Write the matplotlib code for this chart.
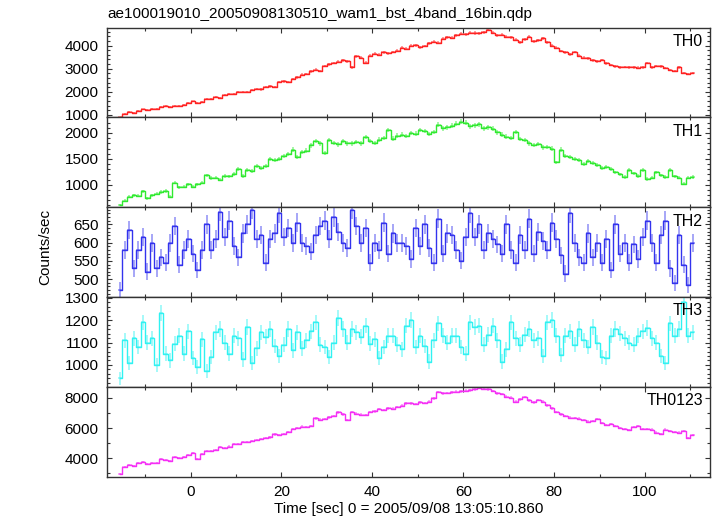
import numpy as np
import matplotlib
matplotlib.use('Agg')
import matplotlib.pyplot as plt
from matplotlib.ticker import MultipleLocator

plt.rcParams['font.family'] = ['Liberation Sans', 'DejaVu Sans']

title = 'ae100019010_20050908130510_wam1_bst_4band_16bin.qdp'
xlabel = 'Time [sec] 0 = 2005/09/08 13:05:10.860'
ylabel = 'Counts/sec'

# time bins: first bin centre and width [sec]
t_start = -15.5
bin_size = 1.0

# count rates (counts/sec), one value per bin
th0 = [900, 1050, 1120, 1100, 1180, 1240, 1230, 1260, 1250, 1340, 1400, 1360, 1390, 1400, 1450, 1530,
       1580, 1520, 1560, 1700, 1680, 1760, 1720, 1880, 1920, 1900, 1990, 2010, 2000, 2090, 2130, 2100,
       2210, 2230, 2200, 2430, 2450, 2420, 2540, 2620, 2740, 2760, 2880, 2960, 2900, 3120, 3180, 3240,
       3300, 3360, 3320, 3050, 3540, 3480, 3260, 3560, 3640, 3600, 3700, 3660, 3720, 3780, 3900, 3860,
       4000, 4020, 3930, 3980, 4100, 4160, 4120, 4300, 4360, 4340, 4450, 4500, 4480, 4560, 4540, 4520,
       4580, 4680, 4560, 4450, 4460, 4380, 4360, 4250, 4150, 4280, 4380, 4180, 4220, 4310, 4150, 4000,
       3900, 3760, 3700, 3620, 3720, 3560, 3480, 3440, 3360, 3320, 3380, 3230, 3150, 3100, 3060, 3080,
       3050, 3060, 3040, 3060, 3250, 3060, 3120, 3100, 3030, 2950, 2900, 3050, 2820, 2760, 2800]

th1 = [610, 690, 770, 800, 790, 870, 740, 800, 830, 860, 880, 770, 1040, 950, 960, 1010,
       960, 1010, 1040, 1180, 1130, 1140, 1100, 1170, 1160, 1210, 1300, 1170, 1290, 1260, 1360, 1330,
       1370, 1490, 1470, 1500, 1560, 1590, 1680, 1530, 1640, 1660, 1760, 1840, 1800, 1620, 1860, 1810,
       1780, 1850, 1800, 1800, 1830, 1800, 1920, 1840, 1810, 1870, 1900, 2060, 1890, 1950, 1970, 1940,
       2000, 1990, 2060, 2040, 1980, 2020, 2160, 2090, 2110, 2140, 2180, 2220, 2200, 2130, 2150, 2170,
       2090, 2110, 2080, 2010, 1970, 1930, 1900, 2020, 1880, 1860, 1800, 1770, 1790, 1720, 1730, 1700,
       1430, 1680, 1560, 1530, 1500, 1480, 1400, 1450, 1420, 1380, 1330, 1350, 1300, 1240, 1200, 1150,
       1280, 1220, 1170, 1290, 1110, 1140, 1240, 1180, 1150, 1280, 1160, 1140, 1020, 1140, 1150]

th2 = [470, 580, 635, 530, 580, 615, 520, 600, 530, 560, 545, 600, 645, 540, 580, 610,
       570, 525, 580, 650, 580, 610, 685, 615, 660, 590, 560, 625, 650, 690, 610, 620,
       545, 610, 625, 680, 615, 640, 600, 655, 600, 590, 575, 620, 645, 660, 610, 670,
       630, 600, 585, 690, 645, 600, 640, 545, 600, 580, 655, 570, 625, 600, 598, 590,
       555, 640, 590, 650, 585, 545, 665, 570, 625, 620, 580, 550, 615, 680, 615, 650,
       580, 625, 610, 595, 570, 650, 580, 545, 620, 580, 665, 570, 630, 605, 580, 655,
       610, 565, 515, 680, 600, 560, 545, 625, 560, 600, 545, 610, 525, 650, 570, 600,
       545, 595, 555, 615, 660, 600, 545, 620, 660, 530, 490, 620, 540, 485, 600]

th3 = [940, 1110, 1010, 1120, 1080, 1190, 1100, 1120, 1000, 1230, 1050, 1020, 1095, 1130, 1050, 1150,
       1030, 990, 1115, 975, 1035, 1145, 1160, 1100, 1050, 1130, 1120, 1025, 1170, 1010, 1075, 1145,
       1125, 1160, 1085, 1040, 1090, 1160, 1065, 1145, 1075, 1110, 1150, 1190, 1090, 1080, 1035, 1100,
       1210, 1160, 1100, 1160, 1145, 1125, 1175, 1095, 1115, 1030, 1080, 1130, 1130, 1090, 1070, 1175,
       1200, 1080, 1130, 1085, 1015, 1110, 1185, 1130, 1100, 1130, 1130, 1080, 1050, 1190, 1170, 1175,
       1090, 1135, 1175, 1110, 1015, 1070, 1190, 1120, 1090, 1135, 1160, 1110, 1120, 1040, 1190, 1200,
       1130, 1045, 1130, 1150, 1090, 1160, 1110, 1080, 1170, 1100, 1035, 1030, 1130, 1160, 1140, 1120,
       1100, 1090, 1130, 1150, 1165, 1120, 1100, 1040, 1010, 1185, 1130, 1160, 1280, 1130, 1145]

th0123 = [2950, 3450, 3550, 3520, 3700, 3730, 3650, 3700, 3680, 3950, 3880, 3830, 4100, 4050, 4080, 4250,
          4330, 3960, 4300, 4480, 4460, 4520, 4760, 4700, 4780, 4920, 4960, 5090, 5050, 5120, 5200, 5260,
          5320, 5380, 5580, 5540, 5620, 5760, 5930, 6000, 6090, 6060, 6120, 6640, 6550, 6600, 6700, 6780,
          7030, 6900, 6530, 7060, 6950, 6880, 6850, 7050, 7100, 7250, 7180, 7300, 7280, 7400, 7470, 7620,
          7640, 7580, 7700, 7660, 7740, 7960, 8380, 8300, 8320, 8350, 8400, 8420, 8460, 8500, 8560, 8660,
          8580, 8560, 8450, 8300, 8250, 8070, 8000, 7730, 7900, 8050, 7820, 7700, 7850, 7750, 7500, 7300,
          7050, 6900, 6780, 6680, 6650, 6620, 6520, 6420, 6450, 6600, 6350, 6200, 6250, 6150, 6000, 5950,
          5870, 6050, 6150, 5940, 5950, 5900, 5700, 5590, 5900, 5820, 5750, 5700, 5800, 5330, 5550]

names = ['TH0', 'TH1', 'TH2', 'TH3', 'TH0123']
series = [th0, th1, th2, th3, th0123]
colors = ['#ff2222', '#30ea30', '#3333ee', '#30f2f2', '#f530f5']
ylims = [(890, 4770), (566, 2300), (451, 697), (903, 1303), (2800, 8726)]
major = [1000, 500, 50, 100, 2000]
minor = [200, 100, 10, 20, 1000]

W, H = 717, 516
left_px, right_px = 107, 710
top_px, panel_px = 27.7, 89.76

fig = plt.figure(figsize=(W / 100, H / 100), dpi=100)
axes = []
for i in range(5):
    bottom = 1 - (top_px + (i + 1) * panel_px) / H
    ax = fig.add_axes([left_px / W, bottom, (right_px - left_px) / W, panel_px / H])
    axes.append(ax)

for i, ax in enumerate(axes):
    rate = np.array(series[i], dtype=float)
    t = t_start + bin_size * np.arange(len(rate))
    err = np.sqrt(rate * bin_size) / bin_size
    c = colors[i]
    ax.errorbar(t, rate, xerr=bin_size / 2, yerr=err, fmt='none',
                ecolor=c, elinewidth=1.1, alpha=0.55)
    ax.plot(t, rate, drawstyle='steps-mid', color=c, lw=1.0)

    ax.set_xlim(-18.4, 114.3)
    ax.set_ylim(*ylims[i])
    ax.xaxis.set_major_locator(MultipleLocator(20))
    ax.xaxis.set_minor_locator(MultipleLocator(10))
    ax.yaxis.set_major_locator(MultipleLocator(major[i]))
    ax.yaxis.set_minor_locator(MultipleLocator(minor[i]))
    ax.tick_params(which='both', direction='in', top=True, right=True,
                   width=0.8, color='#333333', labelsize=11, pad=6)
    ax.tick_params(which='major', length=3.8)
    ax.tick_params(which='minor', length=2.0)
    for s in ax.spines.values():
        s.set_linewidth(1.0)
        s.set_color('#333333')
    if i < 4:
        ax.tick_params(labelbottom=False)
    ax.text(0.988, 0.93, names[i], transform=ax.transAxes, ha='right', va='top',
            fontsize=11.5)

axes[-1].set_xlabel(xlabel, fontsize=11, labelpad=2)
fig.text(left_px / W, 1 - 14 / H, title, ha='left', va='center', fontsize=11)
fig.text(45 / W, 1 - 247 / H, ylabel, rotation=90, ha='center', va='center', fontsize=11)

fig.savefig('out.png', dpi=100)
